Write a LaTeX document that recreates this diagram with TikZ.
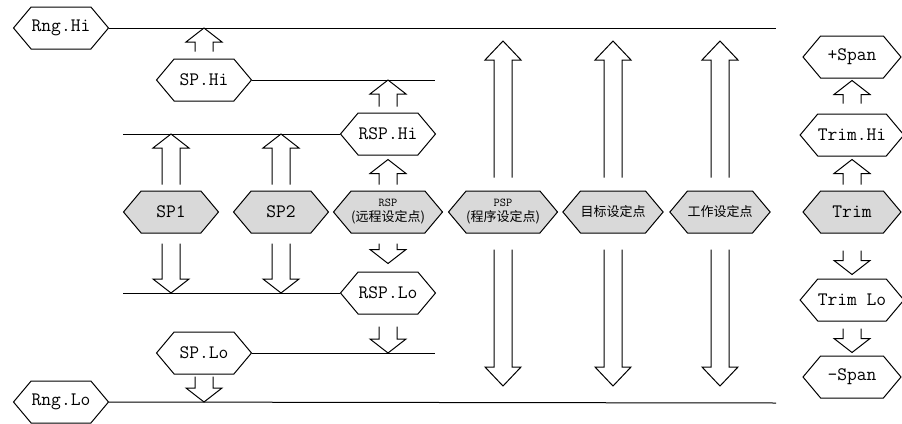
\documentclass[tikz,border=0pt]{standalone}
\usepackage{fontspec}
\newfontfamily\cjk{Noto Sans CJK SC}
\usetikzlibrary{shapes.symbols,calc}

\tikzset{
  hex/.style={signal, signal to=west and east, signal pointer angle=100,
    draw=black, fill=white, minimum width=95pt, minimum height=42pt, inner sep=0pt,
    font=\ttfamily\fontsize{19}{21}\selectfont},
  hexg/.style={hex, fill=gray!30},
  small/.style={align=center, font=\fontsize{13}{14}\selectfont},
  hollowup/.style={to path={let \p1=(\tikztostart), \p2=(\tikztotarget) in
    (\x1-9pt,\y1) -- (\x1-9pt,\y2-#1) -- (\x1-18pt,\y2-#1) -- (\x1,\y2)
    -- (\x1+18pt,\y2-#1) -- (\x1+9pt,\y2-#1) -- (\x1+9pt,\y1)}},
  hollowup/.default=14pt,
  hollowdn/.style={to path={let \p1=(\tikztostart), \p2=(\tikztotarget) in
    (\x1-9pt,\y1) -- (\x1-9pt,\y2+#1) -- (\x1-18pt,\y2+#1) -- (\x1,\y2)
    -- (\x1+18pt,\y2+#1) -- (\x1+9pt,\y2+#1) -- (\x1+9pt,\y1)}},
  hollowdn/.default=14pt
}

\begin{document}
\begin{tikzpicture}[x=1pt,y=-1pt,line width=1pt]
\useasboundingbox (0,0) rectangle (902,423);
% limits
\node[hex] (rnghi) at (61,28) {Rng.Hi};
\node[hex] (rnglo) at (61,402) {Rng.Lo};
\node[hex] (sphi) at (204,80) {SP.Hi};
\node[hex] (splo) at (204,353) {SP.Lo};
\node[hex] (rsphi) at (388,134) {RSP.Hi};
\node[hex] (rsplo) at (388,293) {RSP.Lo};
% set points
\node[hexg] (sp1) at (171,212) {SP1};
\node[hexg] (sp2) at (281,212) {SP2};
\node[hexg,small] (rsp) at (388,212) {\ttfamily\fontsize{12}{13}\selectfont RSP\\[1pt]\cjk(远程设定点)};
\node[hexg,small] (psp) at (503,212) {\ttfamily\fontsize{12}{13}\selectfont PSP\\[1pt]\cjk(程序设定点)};
\node[hexg,small] (target) at (613,212) {\cjk 目标设定点};
\node[hexg,small] (work) at (720,212) {\cjk 工作设定点};
% trim column
\node[hex,minimum width=98pt] (pspan) at (852,57) {+Span};
\node[hex,minimum width=98pt] (trimhi) at (852,135) {Trim.Hi};
\node[hexg,minimum width=98pt] (trim) at (852,212) {Trim};
\node[hex,minimum width=98pt] (trimlo) at (852,300) {Trim Lo};
\node[hex,minimum width=98pt] (mspan) at (852,377) {-Span};

\coordinate (hiend) at (776,28);
\coordinate (loend) at (776,403);
\coordinate (sphiend) at (435,80);
\coordinate (sploend) at (435,353);
\coordinate (rsphistart) at (123,134);
\coordinate (rsplostart) at (123,293);

\draw (rnghi.east) -- (hiend);
\draw (rnglo.east) -- (loend);
\draw (sphi.east) -- (sphiend);
\draw (splo.east) -- (sploend);
\draw (rsphistart) -- (rsphi.west);
\draw (rsplostart) -- (rsplo.west);

\draw ([yshift=7pt]sphi.north) to[hollowup] (sphi.north |- rnghi.east);
\draw ([yshift=6pt]rsphi.north) to[hollowup] (rsphi.north |- sphi.east);
\draw ([yshift=6pt]sp1.north) to[hollowup] (sp1.north |- rsphi.west);
\draw ([yshift=6pt]sp2.north) to[hollowup] (sp2.north |- rsphi.west);
\draw ([yshift=6pt]rsp.north) to[hollowup] ([yshift=-4pt]rsphi.south);
\draw ([yshift=-10pt]sp1.south) to[hollowdn] (sp1.south |- rsplo.west);
\draw ([yshift=-10pt]sp2.south) to[hollowdn] (sp2.south |- rsplo.west);
\draw ([yshift=-10pt]rsp.south) to[hollowdn] ([yshift=8pt]rsplo.north);
\draw ([yshift=-12pt]rsplo.south) to[hollowdn] (rsplo.south |- splo.east);
\draw ([yshift=-2pt]splo.south) to[hollowdn] (splo.south |- rnglo.east);

\foreach \n in {psp,target,work} {
  \draw ([yshift=13pt]\n.north) to[hollowup=19pt] ($(\n.north |- rnghi.east)+(0,13)$);
  \draw ([yshift=-16pt]\n.south) to[hollowdn=19pt] ($(\n.south |- rnglo.east)+(0,-16)$);
}

\draw ([yshift=10pt]trimhi.north) to[hollowup] ([yshift=-2pt]pspan.south);
\draw ([yshift=6pt]trim.north) to[hollowup] ([yshift=-3pt]trimhi.south);
\draw ([yshift=-17pt]trim.south) to[hollowdn] ([yshift=4pt]trimlo.north);
\draw ([yshift=-7pt]trimlo.south) to[hollowdn] ([yshift=3pt]mspan.north);
\end{tikzpicture}
\end{document}
